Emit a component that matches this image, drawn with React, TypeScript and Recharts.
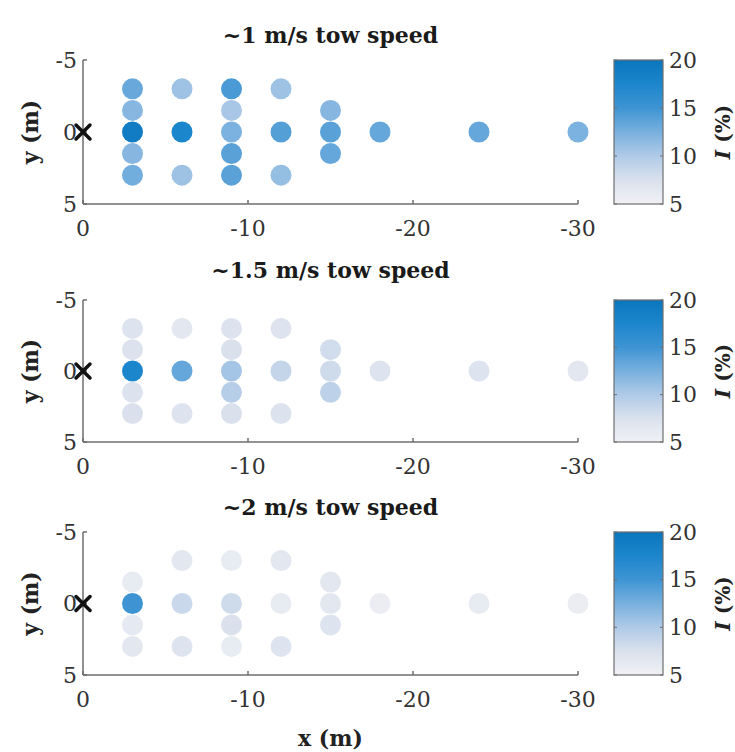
import { ScatterChart, Scatter, XAxis, YAxis, Cell } from 'recharts';

const xTicks = [0, -10, -20, -30];
const yTicks = [-5, 0, 5];
const colorTicks = [20, 15, 10, 5];
const titles = ['~1 m/s tow speed', '~1.5 m/s tow speed', '~2 m/s tow speed'];

// [x (m), y (m), I (%)]
const tow1: [number, number, number][] = [
  [-3, -3, 13.2], [-3, -1.5, 11.8], [-3, 0, 19], [-3, 1.5, 11.8], [-3, 3, 12.8],
  [-6, -3, 10.8], [-6, 0, 17.5], [-6, 3, 10.8],
  [-9, -3, 14.5], [-9, -1.5, 10.3], [-9, 0, 12.3], [-9, 1.5, 13.8], [-9, 3, 13.8],
  [-12, -3, 10.8], [-12, 0, 14], [-12, 3, 11.2],
  [-15, -1.5, 11.8], [-15, 0, 13.8], [-15, 1.5, 13.3],
  [-18, 0, 13.3], [-24, 0, 13.3], [-30, 0, 12.3],
];

const tow2: [number, number, number][] = [
  [-3, -3, 7], [-3, -1.5, 7.2], [-3, 0, 17.5], [-3, 1.5, 7.2], [-3, 3, 7.5],
  [-6, -3, 6.6], [-6, 0, 13.3], [-6, 3, 7],
  [-9, -3, 7.2], [-9, -1.5, 7.5], [-9, 0, 10.5], [-9, 1.5, 9.6], [-9, 3, 7.5],
  [-12, -3, 7], [-12, 0, 8.8], [-12, 3, 7.2],
  [-15, -1.5, 8], [-15, 0, 8.2], [-15, 1.5, 9.2],
  [-18, 0, 7], [-24, 0, 7], [-30, 0, 6.6],
];

const tow3: [number, number, number][] = [
  [-3, -1.5, 6], [-3, 0, 15], [-3, 1.5, 6.2], [-3, 3, 6.5],
  [-6, -3, 6.6], [-6, 0, 8.5], [-6, 3, 7],
  [-9, -3, 6], [-9, 0, 8.2], [-9, 1.5, 7.5], [-9, 3, 6],
  [-12, -3, 6.6], [-12, 0, 6], [-12, 3, 7],
  [-15, -1.5, 6.5], [-15, 0, 6.5], [-15, 1.5, 7],
  [-18, 0, 5.6], [-24, 0, 6], [-30, 0, 5.6],
];

const source = [{ x: 0, y: 0 }];

const colormap: [number, number[]][] = [
  [5, [240, 241, 245]],
  [7.5, [218, 225, 237]],
  [10, [175, 202, 231]],
  [12.5, [120, 176, 222]],
  [15, [62, 148, 211]],
  [17.5, [28, 134, 204]],
  [20, [10, 118, 190]],
];

function intensityColor(v: number) {
  const c = Math.max(5, Math.min(20, v));
  for (let i = 0; i < colormap.length - 1; i++) {
    const [a, ca] = colormap[i];
    const [b, cb] = colormap[i + 1];
    if (c >= a && c <= b) {
      const t = (c - a) / (b - a);
      const rgb = ca.map((k, j) => Math.round(k + (cb[j] - k) * t));
      return `rgb(${rgb[0]},${rgb[1]},${rgb[2]})`;
    }
  }
  return 'rgb(10,118,190)';
}

const serif = '"DejaVu Serif", serif';
const axisColor = '#6e6e6e';

const panels = [
  { data: tow1, top: 0, height: 250, mt: 60, axisH: 46, titleY: 43 },
  { data: tow2, top: 250, height: 237, mt: 50, axisH: 45, titleY: 28 },
  { data: tow3, top: 487, height: 265, mt: 45, axisH: 77, titleY: 28 },
];

const PLOT_L = 83;
const PLOT_R = 578;

function Dot(props: any) {
  return <circle cx={props.cx} cy={props.cy} r={10.5} fill={props.fill} />;
}

function Cross(props: any) {
  const { cx, cy } = props;
  const s = 7;
  return (
    <g stroke="#111" strokeWidth={3.5} strokeLinecap="round">
      <line x1={cx - s} y1={cy - s} x2={cx + s} y2={cy + s} />
      <line x1={cx - s} y1={cy + s} x2={cx + s} y2={cy - s} />
    </g>
  );
}

function YLabel({ viewBox }: any) {
  const cy = viewBox.y + viewBox.height / 2;
  return (
    <text x={30} y={cy} transform={`rotate(-90 30 ${cy})`} textAnchor="middle" dominantBaseline="central"
      fontFamily={serif} fontWeight="bold" fontSize={22} fill="#222">
      y (m)
    </text>
  );
}

function XLabel({ viewBox }: any) {
  return (
    <text x={viewBox.x + viewBox.width / 2} y={viewBox.y + 63} textAnchor="middle" dominantBaseline="central"
      fontFamily={serif} fontWeight="bold" fontSize={22} fill="#222">
      x (m)
    </text>
  );
}

function ColorBar({ id, top, h }: { id: string; top: number; h: number }) {
  const x0 = 614;
  const w = 49;
  const yOf = (v: number) => top + ((20 - v) / 15) * h;
  return (
    <g>
      <defs>
        <linearGradient id={id} x1="0" y1="1" x2="0" y2="0">
          {colormap.map(([v, c]) => (
            <stop key={v} offset={`${((v - 5) / 15) * 100}%`} stopColor={`rgb(${c[0]},${c[1]},${c[2]})`} />
          ))}
        </linearGradient>
      </defs>
      <rect x={x0} y={top} width={w} height={h} fill={`url(#${id})`} stroke={axisColor} strokeWidth={1.2} />
      {colorTicks.map((v) => (
        <g key={v}>
          <line x1={x0} x2={x0 + 3} y1={yOf(v)} y2={yOf(v)} stroke={axisColor} />
          <line x1={x0 + w - 3} x2={x0 + w} y1={yOf(v)} y2={yOf(v)} stroke={axisColor} />
          <text x={x0 + w + 6} y={yOf(v)} dominantBaseline="central" fontFamily={serif} fontSize={22} fill="#333">
            {v}
          </text>
        </g>
      ))}
      <text x={723} y={top + h / 2} transform={`rotate(-90 723 ${top + h / 2})`} textAnchor="middle"
        dominantBaseline="central" fontFamily={serif} fontWeight="bold" fontSize={20} fill="#222">
        <tspan fontStyle="italic">I</tspan> (%)
      </text>
    </g>
  );
}

export default function App() {
  return (
    <div style={{ position: 'absolute', left: 0, top: 0, width: 735, height: 752, background: '#fff' }}>
      {panels.map((p, i) => {
        const plotH = p.height - p.mt - p.axisH;
        const pts = p.data.map(([x, y, v]) => ({ x, y, v }));
        return (
          <div key={i} style={{ position: 'absolute', left: 0, top: p.top }}>
            <ScatterChart width={735} height={p.height} margin={{ top: p.mt, right: 735 - PLOT_R, bottom: 0, left: 0 }}>
              <XAxis
                type="number"
                dataKey="x"
                domain={[-30, 0]}
                reversed
                ticks={xTicks}
                height={p.axisH}
                tickSize={-4}
                tickMargin={20}
                stroke={axisColor}
                strokeWidth={1.5}
                tick={{ fontFamily: serif, fontSize: 22, fill: '#333' }}
                label={i === 2 ? <XLabel /> : undefined}
              />
              <YAxis
                type="number"
                dataKey="y"
                domain={[-5, 5]}
                reversed
                ticks={yTicks}
                width={PLOT_L}
                tickSize={-4}
                tickMargin={10}
                stroke={axisColor}
                strokeWidth={1.5}
                tick={{ fontFamily: serif, fontSize: 22, fill: '#333' }}
                label={<YLabel />}
              />
              <Scatter data={pts} shape={Dot} isAnimationActive={false}>
                {pts.map((d, k) => (
                  <Cell key={k} fill={intensityColor(d.v)} />
                ))}
              </Scatter>
              <Scatter data={source} shape={Cross} isAnimationActive={false} />
              <text x={(PLOT_L + PLOT_R) / 2} y={p.titleY} textAnchor="middle" fontFamily={serif} fontWeight="bold"
                fontSize={22} fill="#1a1a1a">
                {titles[i]}
              </text>
              <ColorBar id={`cb${i}`} top={p.mt} h={plotH} />
            </ScatterChart>
          </div>
        );
      })}
    </div>
  );
}
